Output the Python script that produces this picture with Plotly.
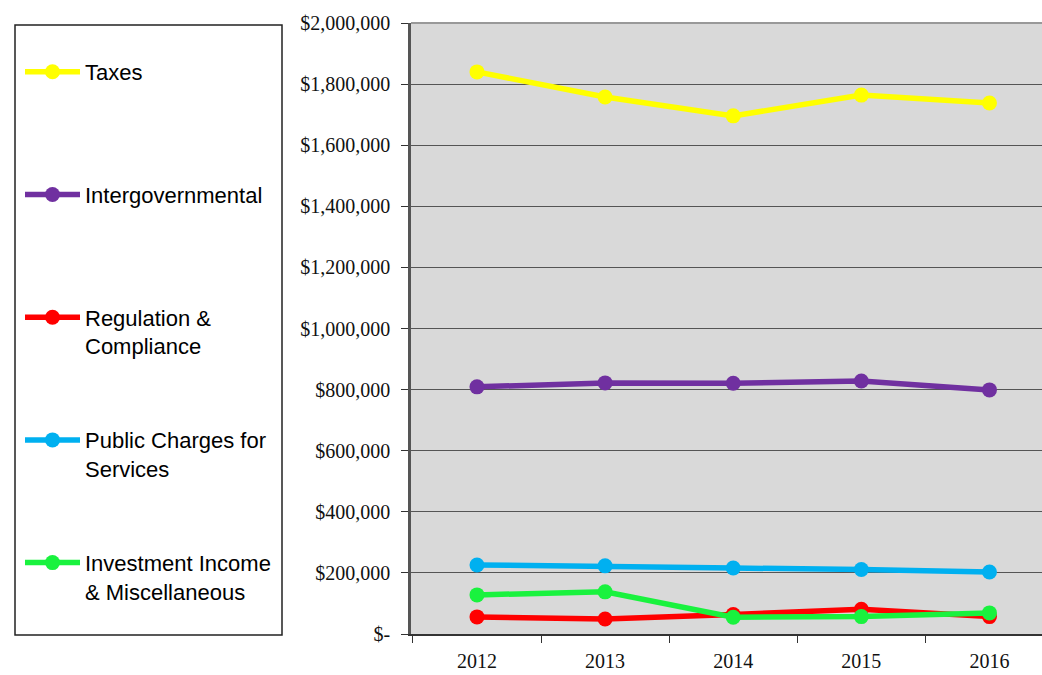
import plotly.graph_objects as go

years = ["2012", "2013", "2014", "2015", "2016"]
taxes = [1840000, 1758000, 1696000, 1764000, 1738000]
intergovernmental = [809000, 822000, 821000, 828000, 799000]
regulation = [56000, 49000, 64000, 81000, 57000]
public_charges = [226000, 223000, 216000, 211000, 203000]
investment = [128000, 138000, 55000, 57000, 69000]

series_names = ["Taxes", "Intergovernmental", "Regulation &<br>Compliance",
                "Public Charges for<br>Services", "Investment Income<br>& Miscellaneous"]
series_values = [taxes, intergovernmental, regulation, public_charges, investment]
series_colors = ["#FFFF00", "#7030A0", "#FF0000", "#00B0F0", "#19F23E"]

ytick_vals = [0, 200000, 400000, 600000, 800000, 1000000, 1200000, 1400000,
              1600000, 1800000, 2000000]
ytick_text = ["$-", "$200,000", "$400,000", "$600,000", "$800,000", "$1,000,000",
              "$1,200,000", "$1,400,000", "$1,600,000", "$1,800,000", "$2,000,000"]

W, H = 1042, 675
ML, MR, MT, MB = 411, 0, 23, 41
pw = W - ML - MR
ph = H - MT - MB

fig = go.Figure()
for i, (name, vals, col) in enumerate(zip(series_names, series_values, series_colors)):
    label = name if "<br>" in name else name + "<br> "
    fig.add_trace(go.Scatter(
        x=years, y=vals, name=label, mode="lines+markers",
        line=dict(color=col, width=5.5),
        marker=dict(color=col, size=15),
        legendgroup="g%d" % i,
        hoverinfo="skip",
    ))

def px_x(p):
    return (p - ML) / pw

def px_y(p):
    return (H - MB - p) / ph

fig.add_shape(type="rect", xref="paper", yref="paper",
              x0=px_x(15), x1=px_x(282), y0=px_y(635), y1=px_y(25),
              line=dict(color="#222222", width=1.5), fillcolor="rgba(0,0,0,0)")
fig.add_shape(type="line", xref="paper", yref="paper",
              x0=0, x1=1, y0=1, y1=1, line=dict(color="#999999", width=2))

fig.update_layout(
    width=W, height=H,
    margin=dict(l=ML, r=MR, t=MT, b=MB, pad=0),
    paper_bgcolor="white",
    plot_bgcolor="#D9D9D9",
    showlegend=True,
    legend=dict(
        x=px_x(20), xanchor="left",
        y=px_y(51), yanchor="top",
        bgcolor="rgba(0,0,0,0)",
        borderwidth=0,
        font=dict(family="Liberation Sans, Arial", size=22, color="#000000"),
        valign="top",
        tracegroupgap=62.5,
        itemwidth=55,
    ),
    xaxis=dict(
        type="category",
        range=[-0.515, 4.41],
        showgrid=False,
        showline=True, linecolor="#333333", linewidth=1.5,
        ticks="outside", ticklen=7, tickcolor="#333333", tickwidth=1,
        tickson="boundaries",
        tickfont=dict(family="Liberation Serif, Times New Roman", size=20, color="#111111"),
        ticklabelstandoff=8,
        zeroline=False,
    ),
    yaxis=dict(
        range=[0, 2000000],
        tickvals=ytick_vals, ticktext=ytick_text,
        showgrid=True, gridcolor="#555555", gridwidth=1.2,
        showline=True, linecolor="#555555", linewidth=2.5,
        ticks="outside", ticklen=7, tickcolor="#333333", tickwidth=1,
        tickfont=dict(family="Liberation Serif, Times New Roman", size=20, color="#111111"),
        ticklabelstandoff=7,
        zeroline=False,
    ),
)

fig.write_html("out.html", config={"displayModeBar": False},
               post_script="document.body.style.margin='0';")
